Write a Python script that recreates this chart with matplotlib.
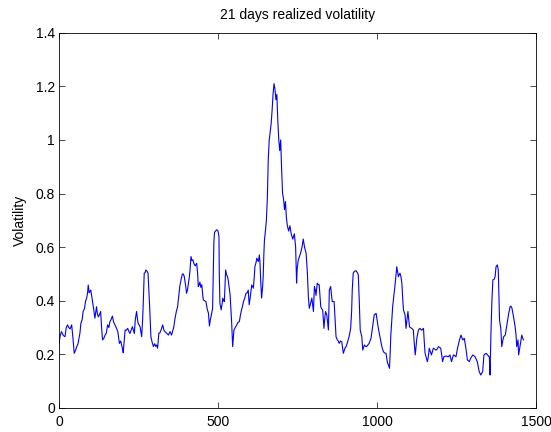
import matplotlib
matplotlib.use("Agg")
import matplotlib.pyplot as plt
import numpy as np
from matplotlib.ticker import FormatStrFormatter

plt.rcParams['font.family'] = ['Liberation Sans', 'DejaVu Sans']
plt.rcParams['font.size'] = 10

# trading day index and 21-day realized volatility
days = [
    0, 4, 8, 14, 19, 23, 27, 31, 35, 40, 44, 48, 52, 56, 60, 63, 66, 69, 73, 76,
    80, 84, 87, 90, 92, 95, 97, 100, 104, 108, 113, 118, 121, 124, 128, 131, 134, 137, 141, 145,
    149, 153, 157, 160, 164, 168, 172, 176, 180, 185, 190, 194, 197, 200, 202, 205, 208, 212, 216, 220,
    223, 227, 231, 234, 237, 240, 244, 247, 249, 252, 255, 258, 260, 263, 265, 268, 271, 273, 277, 280,
    283, 285, 289, 293, 297, 301, 304, 307, 310, 314, 317, 321, 326, 330, 333, 338, 344, 349, 354, 358,
    361, 365, 369, 373, 377, 380, 384, 388, 391, 394, 396, 399, 401, 404, 407, 410, 412, 415, 418, 421,
    424, 428, 433, 436, 438, 441, 443, 446, 449, 452, 454, 458, 462, 466, 470, 473, 476, 478, 481, 483,
    485, 487, 489, 492, 496, 500, 503, 504, 506, 510, 513, 515, 518, 520, 522, 524, 527, 530, 532, 535,
    538, 541, 543, 546, 550, 554, 559, 563, 567, 571, 574, 577, 580, 584, 588, 592, 595, 598, 602, 606,
    611, 614, 616, 619, 622, 625, 627, 630, 632, 634, 637, 640, 642, 644, 646, 649, 652, 655, 658, 661,
    664, 667, 670, 673, 676, 679, 682, 685, 688, 691, 694, 697, 700, 703, 706, 709, 712, 715, 718, 722,
    726, 730, 735, 740, 744, 747, 749, 752, 756, 760, 764, 768, 772, 777, 781, 784, 787, 791, 795, 800,
    803, 806, 808, 812, 815, 818, 823, 826, 829, 833, 836, 838, 842, 847, 850, 854, 857, 859, 865, 868,
    871, 875, 878, 881, 885, 889, 894, 899, 903, 906, 912, 917, 920, 922, 925, 929, 934, 938, 941, 944,
    947, 952, 955, 960, 964, 967, 971, 975, 981, 986, 991, 994, 997, 1001, 1004, 1009, 1015, 1020, 1024, 1028,
    1033, 1036, 1039, 1041, 1043, 1046, 1049, 1053, 1057, 1062, 1067, 1072, 1075, 1078, 1081, 1083, 1088, 1091, 1094, 1097,
    1102, 1105, 1109, 1114, 1117, 1120, 1125, 1130, 1135, 1140, 1146, 1148, 1151, 1158, 1161, 1164, 1171, 1177, 1181, 1185,
    1189, 1193, 1200, 1203, 1206, 1210, 1217, 1224, 1229, 1234, 1240, 1244, 1248, 1253, 1259, 1264, 1269, 1274, 1277, 1280,
    1284, 1290, 1294, 1301, 1308, 1315, 1321, 1326, 1332, 1336, 1343, 1350, 1353, 1355, 1358, 1361, 1364, 1368, 1371, 1374,
    1378, 1381, 1383, 1385, 1389, 1392, 1395, 1398, 1403, 1408, 1413, 1418, 1421, 1424, 1429, 1434, 1437, 1439, 1443, 1445,
    1450, 1455, 1458, 1460,
]
vol = [
    0.24, 0.27, 0.285, 0.27, 0.266, 0.30, 0.31, 0.30, 0.295, 0.31, 0.26, 0.204, 0.215, 0.229, 0.24, 0.26, 0.28, 0.316, 0.33, 0.36,
    0.37, 0.40, 0.41, 0.43, 0.459, 0.43, 0.434, 0.44, 0.41, 0.378, 0.335, 0.378, 0.35, 0.34, 0.35, 0.36, 0.30, 0.254, 0.26, 0.272,
    0.28, 0.31, 0.30, 0.322, 0.33, 0.343, 0.32, 0.31, 0.30, 0.285, 0.241, 0.25, 0.235, 0.22, 0.206, 0.25, 0.291, 0.29, 0.297, 0.285,
    0.278, 0.29, 0.303, 0.29, 0.278, 0.33, 0.36, 0.33, 0.316, 0.31, 0.303, 0.28, 0.266, 0.33, 0.39, 0.503, 0.505, 0.515, 0.51, 0.503,
    0.43, 0.38, 0.266, 0.245, 0.229, 0.24, 0.23, 0.235, 0.223, 0.279, 0.28, 0.291, 0.31, 0.29, 0.285, 0.28, 0.272, 0.285, 0.272, 0.29,
    0.303, 0.335, 0.36, 0.378, 0.42, 0.455, 0.48, 0.50, 0.50, 0.49, 0.475, 0.45, 0.428, 0.44, 0.465, 0.49, 0.515, 0.565, 0.55, 0.553,
    0.54, 0.53, 0.54, 0.50, 0.453, 0.46, 0.47, 0.45, 0.46, 0.42, 0.403, 0.40, 0.397, 0.37, 0.353, 0.306, 0.33, 0.34, 0.36, 0.372,
    0.50, 0.62, 0.655, 0.66, 0.665, 0.66, 0.64, 0.503, 0.39, 0.366, 0.39, 0.41, 0.40, 0.397, 0.46, 0.515, 0.497, 0.49, 0.478, 0.45,
    0.422, 0.36, 0.316, 0.229, 0.29, 0.30, 0.31, 0.32, 0.322, 0.35, 0.366, 0.38, 0.397, 0.41, 0.428, 0.43, 0.44, 0.385, 0.42, 0.459,
    0.447, 0.49, 0.528, 0.54, 0.559, 0.55, 0.547, 0.571, 0.54, 0.478, 0.41, 0.45, 0.49, 0.57, 0.627, 0.66, 0.70, 0.78, 0.93, 1.0,
    1.03, 1.06, 1.11, 1.17, 1.21, 1.19, 1.15, 1.17, 1.07, 1.0, 0.96, 1.0, 0.89, 0.80, 0.78, 0.74, 0.77, 0.71, 0.68, 0.66,
    0.68, 0.65, 0.63, 0.65, 0.60, 0.466, 0.52, 0.55, 0.565, 0.58, 0.60, 0.63, 0.60, 0.577, 0.503, 0.415, 0.372, 0.39, 0.41, 0.36,
    0.453, 0.44, 0.42, 0.466, 0.46, 0.46, 0.378, 0.37, 0.366, 0.297, 0.34, 0.36, 0.347, 0.291, 0.44, 0.453, 0.42, 0.397, 0.397, 0.33,
    0.266, 0.254, 0.25, 0.241, 0.25, 0.247, 0.204, 0.223, 0.23, 0.241, 0.266, 0.297, 0.36, 0.44, 0.503, 0.51, 0.512, 0.505, 0.497, 0.40,
    0.291, 0.266, 0.216, 0.235, 0.23, 0.229, 0.235, 0.241, 0.26, 0.303, 0.347, 0.35, 0.353, 0.32, 0.297, 0.266, 0.229, 0.21, 0.205, 0.204,
    0.167, 0.16, 0.148, 0.20, 0.266, 0.32, 0.378, 0.42, 0.465, 0.527, 0.49, 0.503, 0.49, 0.465, 0.40, 0.366, 0.347, 0.297, 0.33, 0.36,
    0.303, 0.30, 0.297, 0.291, 0.24, 0.198, 0.26, 0.291, 0.297, 0.29, 0.297, 0.254, 0.204, 0.173, 0.19, 0.223, 0.198, 0.223, 0.22, 0.216,
    0.22, 0.229, 0.223, 0.20, 0.173, 0.191, 0.194, 0.191, 0.198, 0.173, 0.198, 0.195, 0.191, 0.223, 0.254, 0.272, 0.254, 0.26, 0.24, 0.216,
    0.179, 0.173, 0.185, 0.198, 0.191, 0.173, 0.136, 0.123, 0.136, 0.198, 0.204, 0.194, 0.19, 0.123, 0.279, 0.40, 0.478, 0.48, 0.49, 0.527,
    0.534, 0.515, 0.42, 0.328, 0.297, 0.229, 0.25, 0.266, 0.272, 0.31, 0.347, 0.378, 0.38, 0.372, 0.34, 0.303, 0.27, 0.229, 0.254, 0.198,
    0.235, 0.272, 0.26, 0.254,
]

fig = plt.figure(figsize=(5.51, 4.32), dpi=100)
ax = fig.add_axes([0.107, 0.0556, 0.866, 0.8686])
ax.plot(days, vol, color=(0, 0, 1), linewidth=0.8)

ax.set_xlim(0, 1500)
ax.set_ylim(0, 1.4)
ax.set_xticks([0, 500, 1000, 1500])
ax.set_yticks(np.arange(0, 1.41, 0.2))
ax.yaxis.set_major_formatter(FormatStrFormatter('%g'))
ax.tick_params(direction='in', top=True, right=True, length=4, width=0.5,
               labelsize=10, pad=3)
ax.tick_params(axis='x', pad=5)
for s in ax.spines.values():
    s.set_linewidth(0.6)

ax.set_title('21 days realized volatility', fontsize=10, pad=10)
ax.set_ylabel('Volatility', fontsize=10, labelpad=6)

fig.savefig('out.png', dpi=100)
